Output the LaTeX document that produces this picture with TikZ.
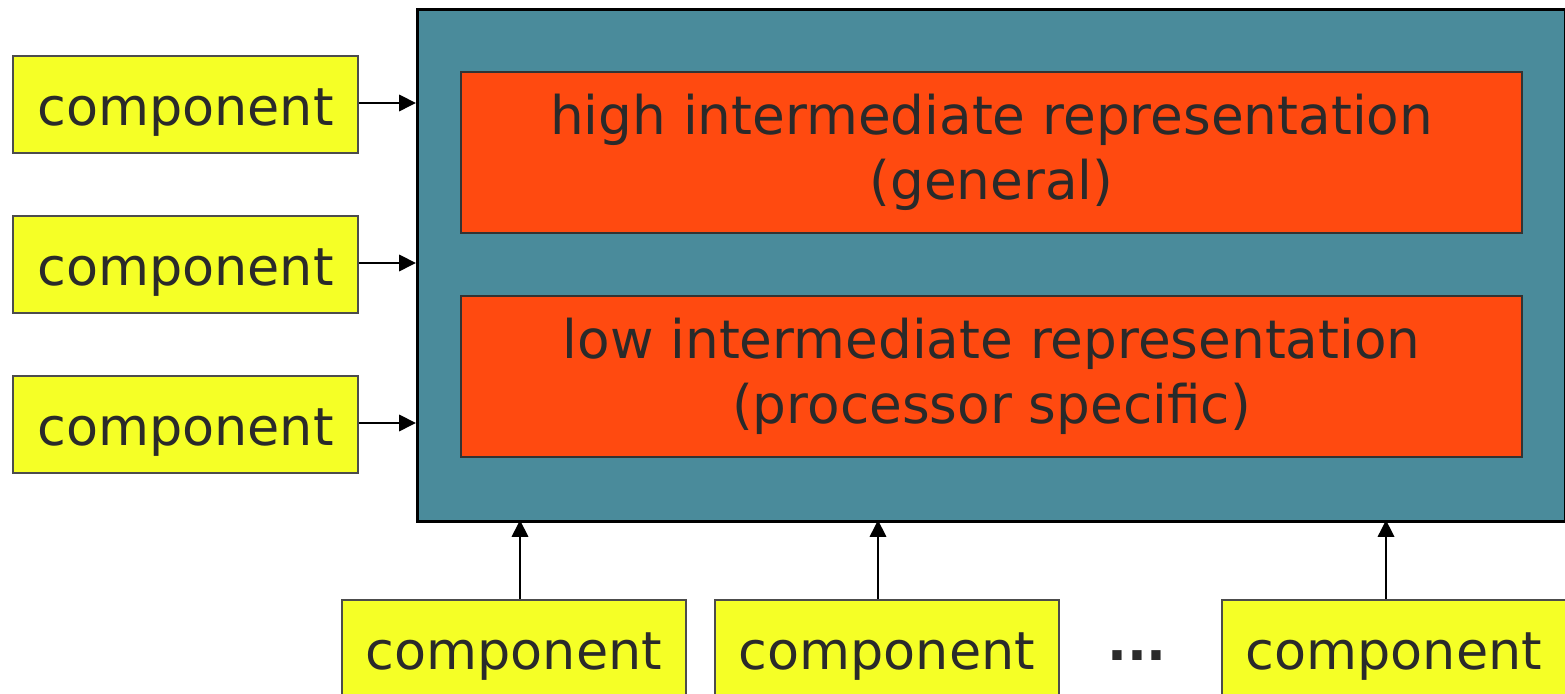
\documentclass[tikz,border=0pt]{standalone}
\usepackage{fontspec}
\setmainfont{DejaVu Sans}
\usetikzlibrary{arrows.meta}
\definecolor{teal}{HTML}{4A8B9B}
\definecolor{orng}{HTML}{FF4A10}
\definecolor{yel}{HTML}{F5FF26}
\definecolor{txt}{HTML}{2A2A2A}
\tikzset{
  comp/.style={draw=black!70, line width=0.5pt, fill=yel, minimum width=3.45cm, minimum height=0.97cm, inner sep=0pt, text=txt, text height=0.56cm, text depth=0.13cm, font=\fontsize{14.9pt}{18.6pt}\selectfont},
  irbox/.style={draw=black!80, line width=0.6pt, fill=orng, minimum width=10.61cm, minimum height=1.61cm, inner sep=0pt, text=txt, align=center, font=\fontsize{15.15pt}{18.6pt}\selectfont},
  arr/.style={line width=0.8pt, -{Triangle[length=4.8pt, width=4.6pt]}}
}
\begin{document}
\begin{tikzpicture}
\useasboundingbox (0,0) rectangle (15.65,-6.94);
\clip (0,0) rectangle (15.65,-6.94);
\node[draw=black, line width=0.9pt, fill=teal, minimum width=11.48cm, minimum height=5.12cm, inner sep=0pt, anchor=north west] (main) at (4.16,-0.08) {};
\node[irbox, anchor=north west] (high) at (4.60,-0.71) {high intermediate representation\\(general)};
\node[irbox, anchor=north west] (low) at (4.60,-2.95) {low intermediate representation\\(processor specific)};
\node[comp, anchor=north west] (l1) at (0.12,-0.55) {component};
\node[comp, anchor=north west] (l2) at (0.12,-2.15) {component};
\node[comp, anchor=north west] (l3) at (0.12,-3.75) {component};
\node[comp, anchor=north west, minimum width=3.44cm] (b1) at (3.41,-5.99) {component};
\node[comp, anchor=north west, minimum width=3.44cm] (b2) at (7.14,-5.99) {component};
\node[comp, anchor=north west, minimum width=3.44cm] (b3) at (12.21,-5.99) {component};
\node[text=txt, font=\fontsize{14.9pt}{18.6pt}\selectfont\bfseries, inner sep=0pt, anchor=base] (dots) at (11.37,-6.61) {...};
\coordinate (t1) at (4.16,-1.03);
\coordinate (t2) at (4.16,-2.63);
\coordinate (t3) at (4.16,-4.23);
\draw[arr] (l1.east |- t1) -- (t1);
\draw[arr] (l2.east |- t2) -- (t2);
\draw[arr] (l3.east |- t3) -- (t3);
\draw[arr] (5.20,-5.99) -- (5.20,-5.20);
\draw[arr] (8.78,-5.99) -- (8.78,-5.20);
\draw[arr] (13.86,-5.99) -- (13.86,-5.20);
\end{tikzpicture}
\end{document}
